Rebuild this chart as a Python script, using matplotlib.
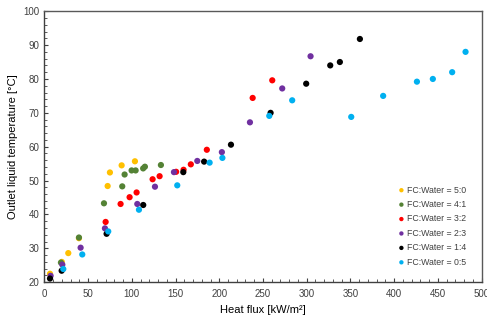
import matplotlib
matplotlib.use("Agg")
import matplotlib.pyplot as plt
from matplotlib.ticker import MultipleLocator

plt.rcParams['font.family'] = ['Liberation Sans', 'DejaVu Sans']

labels = ["FC:Water = 5:0", "FC:Water = 4:1", "FC:Water = 3:2",
          "FC:Water = 2:3", "FC:Water = 1:4", "FC:Water = 0:5"]
colors = ["#FFC000", "#548235", "#FF0000", "#7030A0", "#000000", "#00B0F0"]

x_50 = [6.5, 20, 27.4, 39.6, 72.4, 75, 88.4, 103.6]
y_50 = [22.5, 26.0, 28.6, 33.0, 48.4, 52.4, 54.5, 55.7]

x_41 = [19, 39.6, 68.2, 89.1, 91.8, 99.8, 104.4, 113, 115, 133.3]
y_41 = [25.8, 33.2, 43.3, 48.3, 51.8, 53.0, 53.0, 53.6, 54.1, 54.6]

x_32 = [70.1, 87.2, 97.5, 105.5, 123.8, 131.8, 150.7, 159.2, 167.5, 185.8, 238.2, 260.6]
y_32 = [37.8, 43.1, 45.1, 46.5, 50.4, 51.3, 52.6, 53.2, 54.8, 59.1, 74.4, 79.6]

x_23 = [7.2, 20.6, 41.5, 69.3, 106.3, 126.5, 148.2, 174.9, 203, 235.1, 272, 304.4]
y_23 = [21.9, 25.2, 30.2, 35.9, 43.1, 48.2, 52.5, 55.8, 58.4, 67.2, 77.2, 86.7]

x_14 = [6.5, 19.8, 71.2, 113.1, 158.9, 182.7, 213.4, 258.7, 299.4, 326.9, 337.9, 360.8]
y_14 = [21.1, 23.4, 34.3, 42.8, 52.5, 55.6, 60.6, 70.0, 78.6, 84.0, 85.0, 91.8]

x_05 = [21.7, 43.4, 73.1, 108.2, 152, 189, 203.6, 257.2, 283.4, 350.9, 387.4, 426, 444.2, 466.3, 481.6]
y_05 = [23.9, 28.2, 35.0, 41.4, 48.6, 55.3, 56.7, 69.1, 73.7, 68.8, 75.0, 79.2, 80.0, 82.0, 88.0]

series = [(x_50, y_50), (x_41, y_41), (x_32, y_32), (x_23, y_23), (x_14, y_14), (x_05, y_05)]

fig = plt.figure(figsize=(4.87, 3.2), dpi=100)
ax = fig.add_axes([0.091, 0.118, 0.898, 0.847])

for (xs, ys), c, lab in zip(series, colors, labels):
    ax.scatter(xs, ys, s=20, color=c, label=lab, edgecolors='none', zorder=3)

ax.set_xlim(0, 500)
ax.set_ylim(20, 100)
ax.xaxis.set_major_locator(MultipleLocator(50))
ax.xaxis.set_minor_locator(MultipleLocator(10))
ax.yaxis.set_major_locator(MultipleLocator(10))
ax.yaxis.set_minor_locator(MultipleLocator(2))
ax.tick_params(which='both', direction='in', colors='#404040', labelsize=7,
               labelcolor='#404040')
ax.tick_params(which='major', length=3, width=0.8)
ax.tick_params(which='minor', length=2, width=0.6)
ax.tick_params(axis='x', pad=5)

for side in ['left', 'bottom']:
    ax.spines[side].set_color('#404040')
    ax.spines[side].set_linewidth(1.0)
for side in ['top', 'right']:
    ax.spines[side].set_color('#595959')
    ax.spines[side].set_linewidth(1.0)

ax.set_xlabel("Heat flux [kW/m²]", fontsize=8, labelpad=4)
ax.set_ylabel("Outlet liquid temperature [°C]", fontsize=8, labelpad=4)

leg = ax.legend(loc='lower right', bbox_to_anchor=(0.978, 0.035), frameon=False,
                fontsize=6.3, handletextpad=0.0, markerscale=0.7,
                labelspacing=0.62, borderpad=0.2, handlelength=1.2,
                labelcolor='#404040')

fig.savefig("out.png", dpi=100)
